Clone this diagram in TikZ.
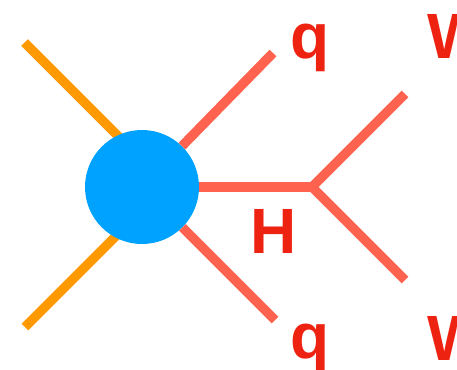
\documentclass[tikz,border=0pt]{standalone}
\usepackage{fontspec}
\setmainfont{Liberation Sans}
\usetikzlibrary{calc}
\definecolor{legorange}{RGB}{255,153,0}
\definecolor{legred}{RGB}{255,99,80}
\definecolor{lblred}{RGB}{238,34,17}
\definecolor{blobblue}{RGB}{0,162,255}

\begin{document}
\begin{tikzpicture}[x=1pt,y=-1pt,
  inleg/.style={draw=legorange,line width=9.5pt},
  outleg/.style={draw=legred,line width=9.5pt},
  lbl/.style={inner sep=0pt,anchor=base west,text=lblred,font=\fontsize{64}{64}\selectfont\bfseries}]
\useasboundingbox (0,0) rectangle (457,369);
% incoming legs meet behind the blob
\coordinate (ina) at (24.5,42.5);\coordinate (inb) at (25,327);\coordinate (meet) at (167,185);
\draw[inleg] (ina)--(meet);\draw[inleg] (inb)--(meet);
\node[circle,fill=blobblue,minimum size=114pt,inner sep=0pt] (blob) at (142,187) {};
% outgoing quarks and the H decay
\coordinate (qa) at (273,53);\coordinate (qb) at (275,320);
\coordinate (hv) at (312,187);\coordinate (wa) at (405,94);\coordinate (wb) at (405,280);
\draw[outleg] (blob)--(qa);\draw[outleg] (blob)--(qb);
\draw[outleg] (blob.east)--(hv);
\draw[outleg,miter limit=4] (wa)--(hv)--(wb);
\node[lbl] (lqa) at (290,58) {q};
\node[lbl] (lqb) at (290,358) {q};
\node[lbl] (lh) at (250,253) {H};
\node[lbl] (lwa) at (427,58) {W};
\node[lbl] (lwb) at (427,360) {W};
\end{tikzpicture}
\end{document}
